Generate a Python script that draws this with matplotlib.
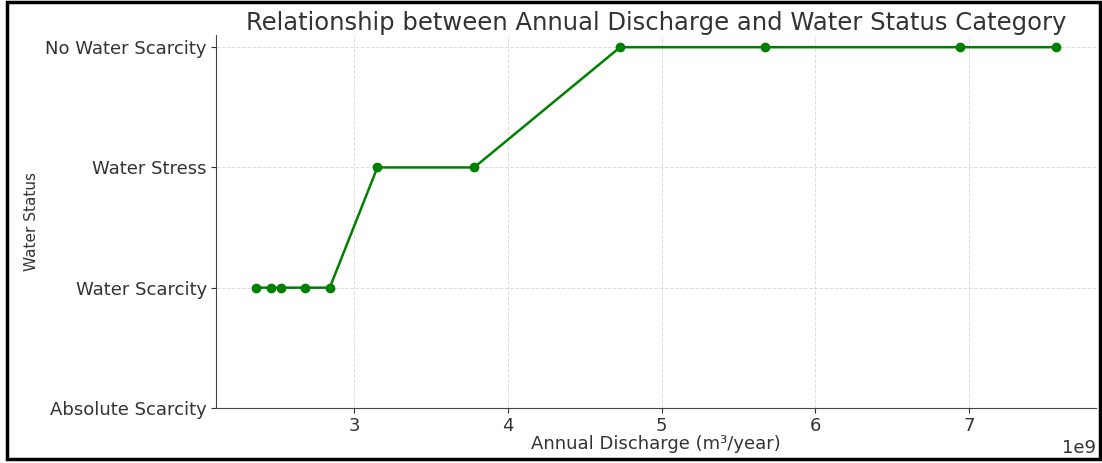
import matplotlib.pyplot as plt
from matplotlib.patches import Rectangle

# Datos
discharge = [2.36e9, 2.46e9, 2.525e9, 2.68e9, 2.84e9, 3.15e9, 3.78e9,
             4.73e9, 5.675e9, 6.94e9, 7.57e9]
status = [1, 1, 1, 1, 1, 2, 2, 3, 3, 3, 3]
status_labels = ['Absolute Scarcity', 'Water Scarcity', 'Water Stress', 'No Water Scarcity']

plt.rcParams['text.color'] = '#333333'
plt.rcParams['axes.labelcolor'] = '#333333'
plt.rcParams['xtick.color'] = '#333333'
plt.rcParams['ytick.color'] = '#333333'

fig = plt.figure(figsize=(11.02, 4.63), dpi=100)
ax = fig.add_axes([0.196, 0.119, 0.799, 0.805])

ax.plot(discharge, status, color='green', marker='o', markersize=6, linewidth=1.8)

ax.set_yticks(range(len(status_labels)))
ax.set_yticklabels(status_labels, fontsize=13)
ax.tick_params(axis='x', labelsize=13, pad=3)
ax.tick_params(axis='y', pad=3)
ax.set_title('Relationship between Annual Discharge and Water Status Category', fontsize=17.5, pad=2)
ax.set_xlabel('Annual Discharge (m³/year)', fontsize=13, labelpad=0)
ax.set_ylabel('Water Status', fontsize=11, labelpad=5)
ax.xaxis.get_offset_text().set_fontsize(13)

ax.grid(True, linestyle='--', color='#dddddd', linewidth=0.7)
ax.spines['top'].set_visible(False)
ax.spines['right'].set_visible(False)
for s in ['left', 'bottom']:
    ax.spines[s].set_color('#444444')

# marco negro alrededor de la figura
fig.patches.append(Rectangle((7 / 1102, 4 / 463), 1093 / 1102, 457 / 463,
                             transform=fig.transFigure, fill=False,
                             edgecolor='black', linewidth=2.5))

fig.savefig('out.png', dpi=100)
